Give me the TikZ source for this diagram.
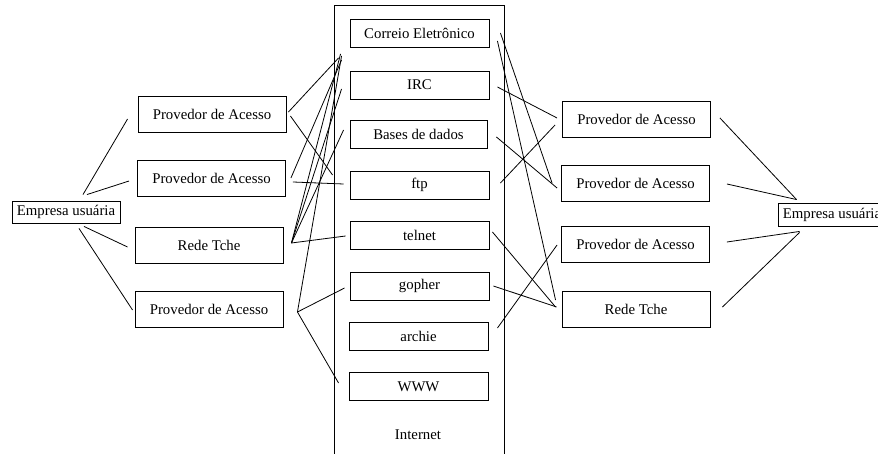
\documentclass[tikz,border=0pt]{standalone}
\usepackage{fontspec}
\setmainfont{Liberation Serif}
\tikzset{
  caixa/.style={draw, line width=0.9pt, minimum width=148pt, minimum height=36pt, inner sep=2pt},
  servico/.style={draw, line width=0.9pt, minimum width=139pt, minimum height=28pt, inner sep=2pt},
  empresa/.style={draw, line width=0.9pt, minimum width=108pt, minimum height=22pt, inner sep=1pt},
  liga/.style={line width=0.8pt}
}
\begin{document}
\begin{tikzpicture}[x=1pt,y=-1pt,font=\fontsize{14.8}{17}\selectfont]
    \useasboundingbox (0,0) rectangle (878,454);

    % internet
    \draw[line width=0.9pt] (334,460) -- (334,5) -- (504,5) -- (504,460);
    \node (internet) at (418,435) {Internet};

    \node[servico] (correio) at (419.5,33.5) {Correio Eletrônico};
    \node[servico] (irc) at (419.5,85) {IRC};
    \node[servico, minimum width=137pt] (bases) at (418.5,134.5) {Bases de dados};
    \node[servico] (ftp) at (419.5,185) {ftp};
    \node[servico] (telnet) at (419.5,235.5) {telnet};
    \node[servico] (gopher) at (419.5,286) {gopher};
    \node[servico] (archie) at (418.5,336) {archie};
    \node[servico] (www) at (418.5,386.5) {WWW};

    % lado esquerdo
    \node[empresa] (empL) at (66,212) {Empresa usuária};
    \node[caixa] (provL1) at (212,114) {Provedor de Acesso};
    \node[caixa] (provL2) at (211.5,178) {Provedor de Acesso};
    \node[caixa] (redeL) at (209,245) {Rede Tche};
    \node[caixa] (provL4) at (209,309) {Provedor de Acesso};

    % lado direito
    \node[caixa] (provR1) at (636.5,119) {Provedor de Acesso};
    \node[caixa] (provR2) at (635.5,183.5) {Provedor de Acesso};
    \node[caixa] (provR3) at (635.5,244) {Provedor de Acesso};
    \node[caixa] (redeR) at (636,309) {Rede Tche};
    \node[empresa, minimum height=23pt] (empR) at (832,214.5) {Empresa usuária};

    % empresa -> provedores (esquerda)
    \draw[liga] ([shift={(17,-6)}]empL.north) -- ([shift={(-10,5)}]provL1.west);
    \draw[liga] ([shift={(21,-6)}]empL.north) -- ([shift={(-8,3)}]provL2.west);
    \draw[liga] ([shift={(18,3)}]empL.south) -- ([shift={(-7,2)}]redeL.west);
    \draw[liga] ([shift={(13,5)}]empL.south) -- ([shift={(-2,1)}]provL4.west);

    % provedores -> servicos
    \draw[liga] ([shift={(2,-2)}]provL1.east) -- ([shift={(-11,10)}]correio.south west);
    \draw[liga] ([shift={(4,2)}]provL1.east) -- ([shift={(-17,-10)}]ftp.west);
    \draw[liga] ([shift={(5,0)}]provL2.east) -- ([shift={(-8,12)}]correio.south west);
    \draw[liga] ([shift={(7,4)}]provL2.east) -- ([shift={(-6,-1)}]ftp.west);
    \draw[liga] ([shift={(8,-2)}]redeL.east) -- ([shift={(-9,6)}]correio.south west);
    \draw[liga] ([shift={(8,-2)}]redeL.east) -- ([shift={(-8,4)}]irc.west);
    \draw[liga] ([shift={(8,-2)}]redeL.east) -- ([shift={(-6,-4.5)}]bases.west);
    \draw[liga] ([shift={(8,-2)}]redeL.east) -- ([shift={(-4,0.5)}]telnet.west);
    \draw[liga] ([shift={(14,3)}]provL4.east) -- ([shift={(-8,8)}]correio.south west);
    \draw[liga] ([shift={(14,3)}]provL4.east) -- ([shift={(-5,2)}]gopher.west);
    \draw[liga] ([shift={(14,3)}]provL4.east) -- ([shift={(-10,-3.5)}]www.west);

    % servicos -> provedores (direita)
    \draw[liga] ([shift={(11,-0.5)}]correio.east) -- ([shift={(-9,-0.5)}]provR2.west);
    \draw[liga] ([shift={(8,7.5)}]correio.east) -- ([shift={(-6,-9)}]redeR.west);
    \draw[liga] ([shift={(8,2)}]irc.east) -- ([shift={(-5,-1)}]provR1.west);
    \draw[liga] ([shift={(9,2.5)}]bases.east) -- ([shift={(-4,4.5)}]provR2.west);
    \draw[liga] ([shift={(11,-2)}]ftp.east) -- ([shift={(-7,6)}]provR1.west);
    \draw[liga] ([shift={(3,-3.5)}]telnet.east) -- ([shift={(-6,-2)}]redeR.west);
    \draw[liga] ([shift={(4,0)}]gopher.east) -- ([shift={(-5,-2)}]redeR.west);
    \draw[liga] ([shift={(9,-8)}]archie.east) -- ([shift={(-4,1)}]provR3.west);

    % provedores -> empresa (direita)
    \draw[liga] ([shift={(9,-1)}]provR1.east) -- ([shift={(19,-3)}]empR.north west);
    \draw[liga] ([shift={(17,0.5)}]provR2.east) -- ([shift={(19,-3)}]empR.north west);
    \draw[liga] ([shift={(17,-2)}]provR3.east) -- ([shift={(22,5)}]empR.south west);
    \draw[liga] ([shift={(12,-2)}]redeR.east) -- ([shift={(22,6)}]empR.south west);
\end{tikzpicture}
\end{document}
